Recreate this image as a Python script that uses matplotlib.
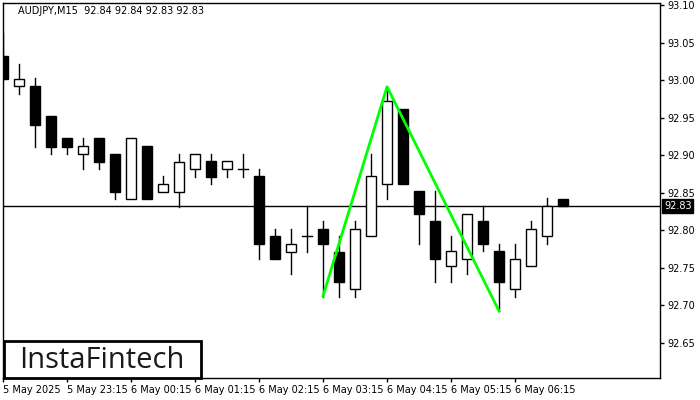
import matplotlib
matplotlib.use("Agg")
import matplotlib.pyplot as plt
from matplotlib.patches import Rectangle

# dane świec M15
opens = [93.032, 92.992, 92.992, 92.952, 92.923, 92.902, 92.923, 92.902, 92.842, 92.912,
         92.851, 92.851, 92.881, 92.892, 92.881, 92.881, 92.872, 92.792, 92.771, 92.792,
         92.801, 92.771, 92.721, 92.792, 92.861, 92.961, 92.852, 92.812, 92.752, 92.762,
         92.812, 92.772, 92.721, 92.752, 92.792, 92.842]
highs = [93.063, 93.021, 93.003, 92.952, 92.923, 92.923, 92.923, 92.902, 92.923, 92.912,
         92.872, 92.902, 92.902, 92.902, 92.892, 92.902, 92.881, 92.801, 92.801, 92.832,
         92.812, 92.792, 92.812, 92.902, 92.991, 92.961, 92.852, 92.852, 92.792, 92.821,
         92.832, 92.781, 92.781, 92.812, 92.843, 92.842]
lows = [93.000, 92.982, 92.911, 92.901, 92.901, 92.881, 92.881, 92.842, 92.842, 92.842,
        92.851, 92.831, 92.871, 92.861, 92.871, 92.871, 92.762, 92.762, 92.741, 92.771,
        92.711, 92.711, 92.711, 92.792, 92.842, 92.861, 92.781, 92.731, 92.731, 92.741,
        92.772, 92.692, 92.711, 92.752, 92.781, 92.832]
closes = [93.001, 93.002, 92.940, 92.911, 92.911, 92.912, 92.891, 92.851, 92.923, 92.842,
          92.861, 92.891, 92.902, 92.871, 92.892, 92.881, 92.781, 92.762, 92.781, 92.792,
          92.781, 92.731, 92.801, 92.872, 92.972, 92.861, 92.821, 92.762, 92.772, 92.821,
          92.781, 92.731, 92.762, 92.801, 92.832, 92.832]

# wzorzec (zielona linia): indeksy świec i ceny
pattern_idx = [20, 24, 31]
pattern_px = [92.712, 92.991, 92.692]

last_price = 92.832
y_ticks = [93.10, 93.05, 93.00, 92.95, 92.90, 92.85, 92.80, 92.75, 92.70, 92.65]
time_idx = [0, 4, 8, 12, 16, 20, 24, 28, 32]
time_labels = ["5 May 2025", "5 May 23:15", "6 May 00:15", "6 May 01:15", "6 May 02:15",
               "6 May 03:15", "6 May 04:15", "6 May 05:15", "6 May 06:15"]

plt.rcParams["font.family"] = ["DejaVu Sans"]

fig = plt.figure(figsize=(7, 4), dpi=100)
ax = fig.add_axes([3/700, 22/400, 657/700, 375/400])

w = 0.65
for i, (o, h, l, c) in enumerate(zip(opens, highs, lows, closes)):
    top, bot = max(o, c), min(o, c)
    ax.plot([i, i], [top, h], color="black", lw=1, zorder=2)
    ax.plot([i, i], [l, bot], color="black", lw=1, zorder=2)
    if abs(c - o) < 0.0005:
        ax.plot([i - w/2, i + w/2], [o, o], color="black", lw=1, zorder=2)
    else:
        face = "white" if c > o else "black"
        ax.add_patch(Rectangle((i - w/2, bot), w, top - bot, facecolor=face,
                               edgecolor="black", lw=1, zorder=3))

ax.axhline(last_price, color="black", lw=1, zorder=1)
ax.plot(pattern_idx, pattern_px, color="#00ff00", lw=2, zorder=4)

ax.set_xlim(0, 41.06)
ax.set_ylim(92.6027, 93.1027)

ax.yaxis.tick_right()
ax.set_yticks(y_ticks)
ax.set_yticklabels([f"{v:.2f}" for v in y_ticks], fontsize=7)
ax.set_xticks(time_idx)
ax.set_xticklabels(time_labels, fontsize=7, ha="left")
ax.tick_params(axis="both", length=3, width=1, color="black", pad=2)
for s in ax.spines.values():
    s.set_color("black")
    s.set_linewidth(1)

# etykieta bieżącej ceny
ax.text(1.0 + 4/657, last_price, f"{last_price:.2f}", transform=ax.get_yaxis_transform(),
        fontsize=7, color="white", va="center", ha="left", clip_on=False,
        bbox=dict(facecolor="black", edgecolor="black", pad=1.2))

ax.text(15/657, 1 - 8/375, "AUDJPY,M15  92.84 92.84 92.83 92.83", transform=ax.transAxes,
        fontsize=7, va="center", ha="left", color="black")

# logo
fig.patches.append(Rectangle((4/700, 22/400), 197/700, 37/400, transform=fig.transFigure,
                             facecolor="white", edgecolor="black", lw=2, zorder=10))
fig.text(102/700, 40/400, "InstaFintech", fontsize=21, color="#1a1a1a",
         family="Open Sans", ha="center", va="center", zorder=11)

fig.savefig("out.png", dpi=100)
